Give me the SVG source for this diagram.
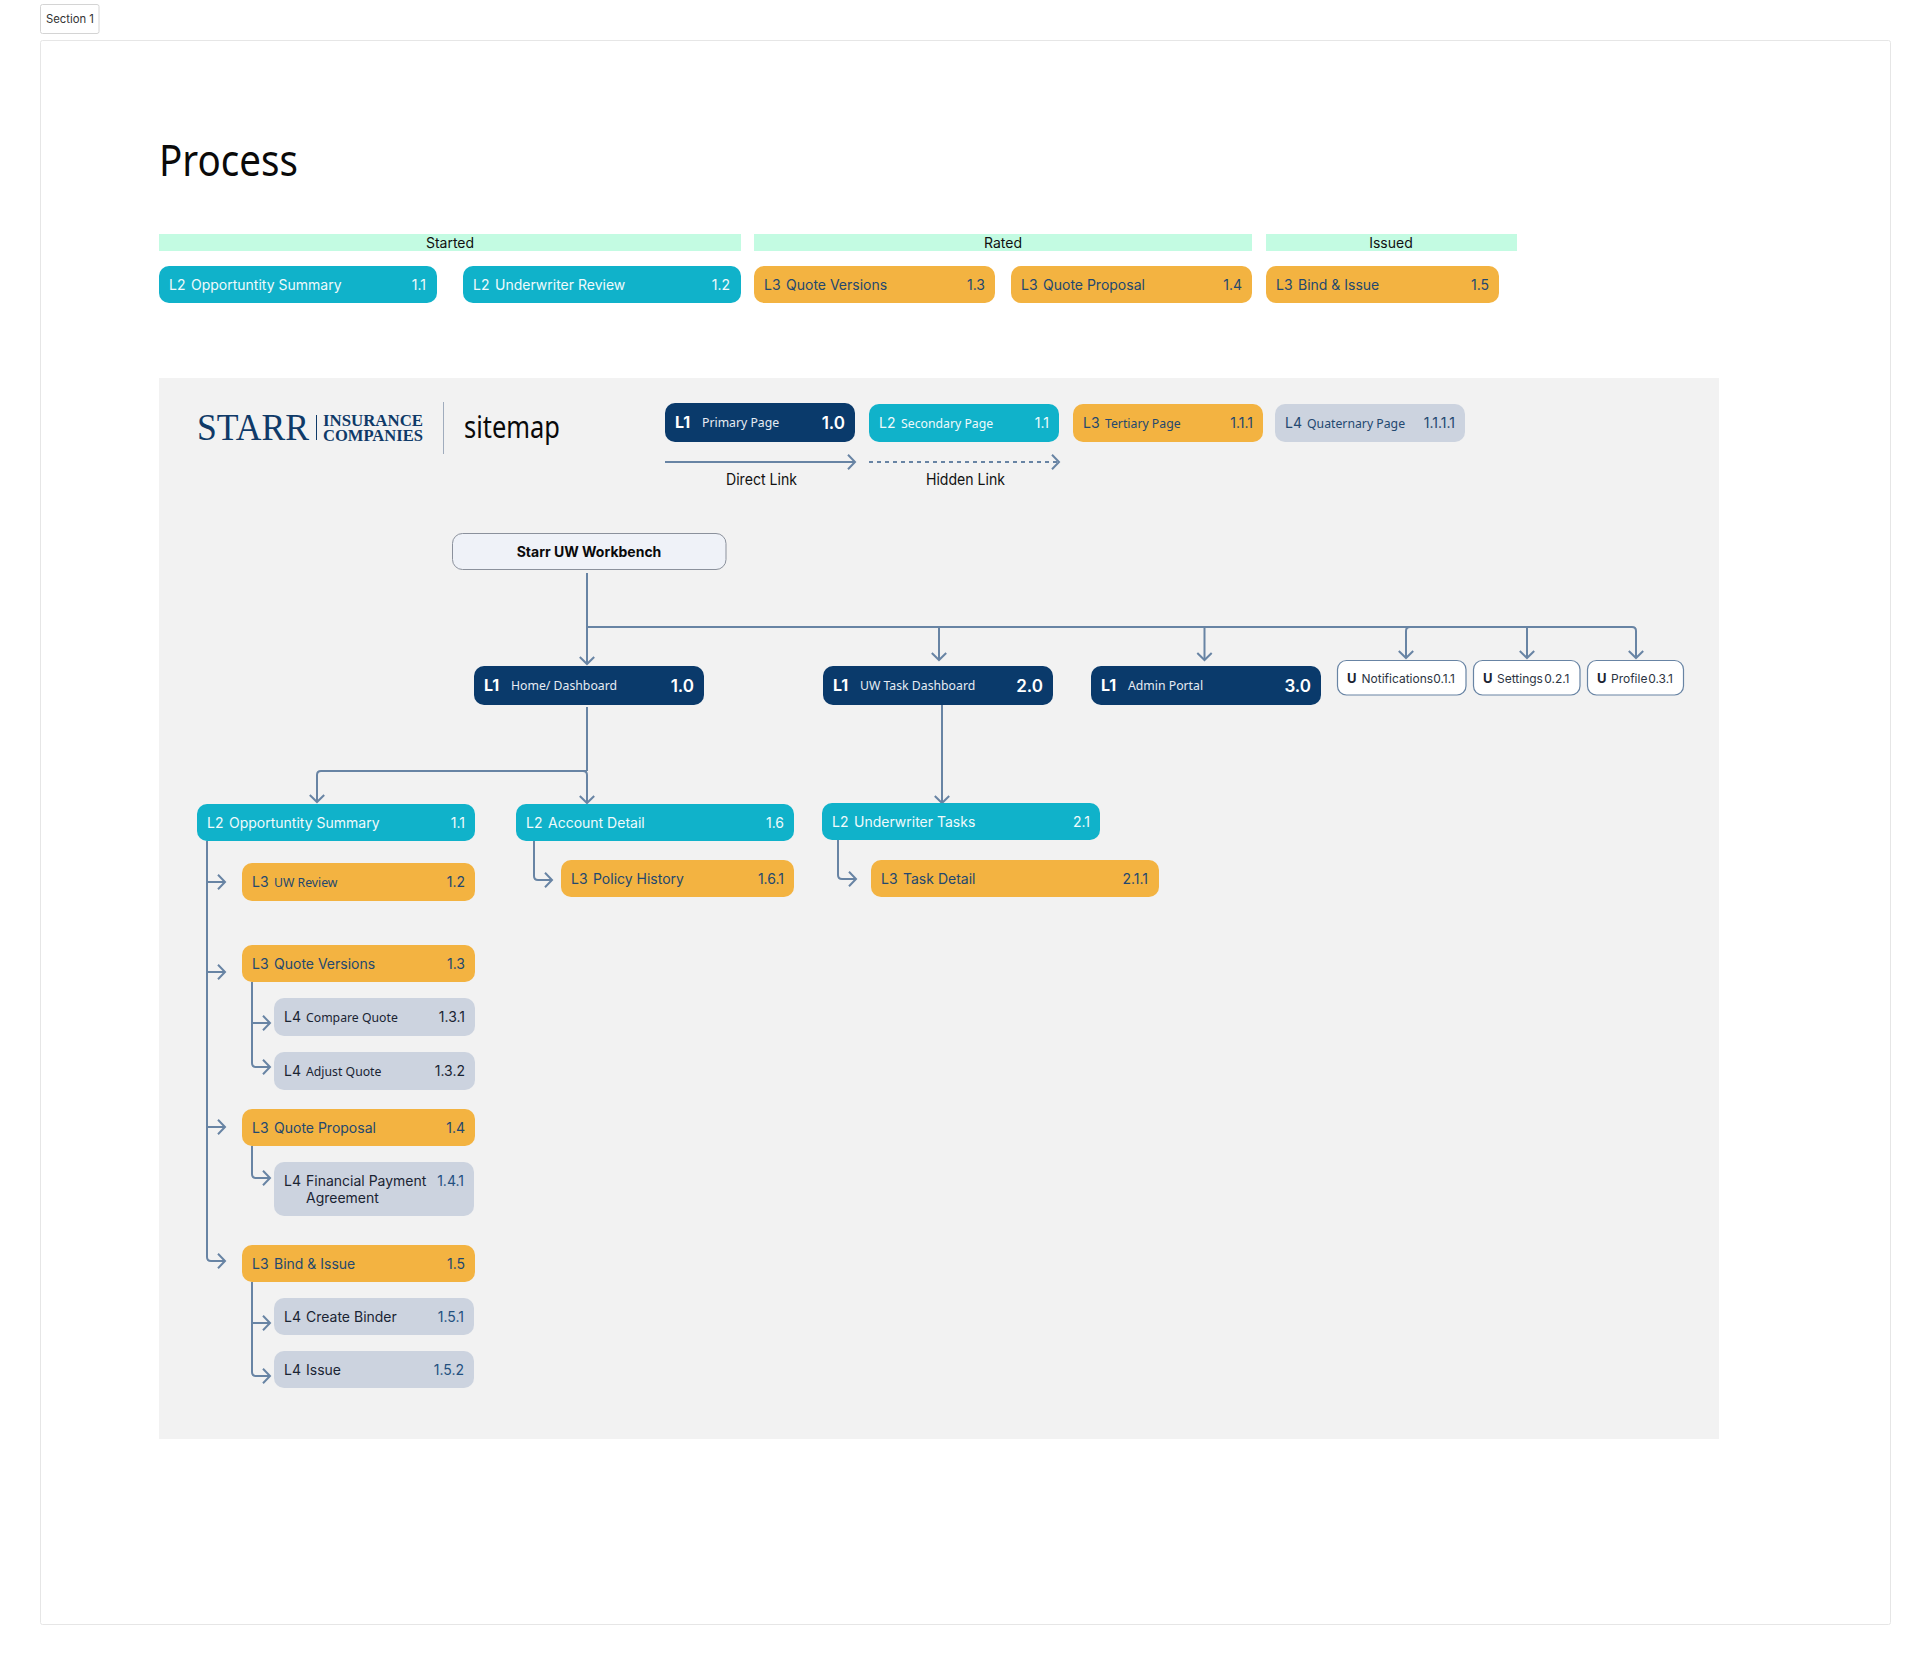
<svg xmlns="http://www.w3.org/2000/svg" width="1931" height="1665" viewBox="0 0 1931 1665">
<defs>
<marker id="ah" markerUnits="userSpaceOnUse" markerWidth="20" markerHeight="20" refX="14" refY="10" orient="auto"><path d="M7 2.8 L14 10 L7 17.2" fill="none" stroke="#6884A4" stroke-width="2"/></marker>
</defs>
<style>
text{font-family:"Inter","Liberation Sans",sans-serif;font-size:14px;white-space:pre}
.n{font-family:"Noto Sans","Liberation Sans",sans-serif}
.e{text-anchor:end}
.m{text-anchor:middle}
.c{fill:none;stroke:#6884A4;stroke-width:2}
.a{marker-end:url(#ah)}
.l1{fill:#0A3A6B}.l2{fill:#10B2CA}.l3{fill:#F3B341}.l4{fill:#CCD3DF}
.t1{fill:#fff}.t1s{fill:#E6ECF3;font-size:12.25px}.t1b{fill:#fff;font-weight:700;font-size:16px}.t1c{fill:#fff;font-weight:600;font-size:17px}
.t2{fill:#EFFAFC}.t3{fill:#23486F}.t4{fill:#1A2433}.t4n{fill:#23507F}
.s13{font-size:12.25px}
.u{fill:#fff;stroke:#6884A4;stroke-width:1.2}
.ut{fill:#2B3442;font-size:12px}.ub{fill:#1A2433;font-weight:700;font-size:13px}
.g{fill:#C3FBE2}
.lg{font-family:"Liberation Serif",serif;fill:#0F3A68}
.lb{font-size:16.5px;font-weight:700}
.ll{font-size:15.5px;fill:#111;text-anchor:start}
</style>
<rect width="1931" height="1665" fill="#fff"/>
<g id="section"><rect x="40.5" y="4.5" width="58.5" height="29" rx="2" fill="#fff" stroke="#D4D4D4" stroke-width="1"/><text x="46" y="22.5" style="font-size:11.3px" fill="#333">Section 1</text></g>
<rect id="frame" x="40.5" y="40.5" width="1850" height="1584" rx="2" fill="#fff" stroke="#E6E6E6" stroke-width="1"/>
<text id="title" class="n" x="159" y="176" style="font-size:43px" textLength="139" lengthAdjust="spacingAndGlyphs" fill="#0A0A0A">Process</text>
<g id="stage-started"><rect class="g" x="159" y="234" width="582" height="17"/><text class="m" x="450" y="248" fill="#111">Started</text></g>
<g id="stage-rated"><rect class="g" x="754" y="234" width="498" height="17"/><text class="m" x="1003" y="248" fill="#111">Rated</text></g>
<g id="stage-issued"><rect class="g" x="1266" y="234" width="251" height="17"/><text class="m" x="1391" y="248" fill="#111">Issued</text></g>
<g id="p11"><rect class="l2" x="159" y="266" width="278" height="37" rx="10"/><text class="t2" x="169" y="290">L2</text><text class="t2" x="191" y="290">Opportuntity Summary</text><text class="t2 e" x="426" y="290">1.1</text></g>
<g id="p12"><rect class="l2" x="463" y="266" width="278" height="37" rx="10"/><text class="t2" x="473" y="290">L2</text><text class="t2" x="495" y="290">Underwriter Review</text><text class="t2 e" x="730" y="290">1.2</text></g>
<g id="p13"><rect class="l3" x="754" y="266" width="241" height="37" rx="10"/><text class="t3" x="764" y="290">L3</text><text class="t3" x="786" y="290">Quote Versions</text><text class="t3 e" x="985" y="290">1.3</text></g>
<g id="p14"><rect class="l3" x="1011" y="266" width="241" height="37" rx="10"/><text class="t3" x="1021" y="290">L3</text><text class="t3" x="1043" y="290">Quote Proposal</text><text class="t3 e" x="1242" y="290">1.4</text></g>
<g id="p15"><rect class="l3" x="1266" y="266" width="233" height="37" rx="10"/><text class="t3" x="1276" y="290">L3</text><text class="t3" x="1298" y="290">Bind &amp; Issue</text><text class="t3 e" x="1489" y="290">1.5</text></g>
<rect id="panel" x="159" y="378" width="1560" height="1061" fill="#F2F2F2"/>
<g id="logo"><text class="lg" x="197" y="440" style="font-size:37px" textLength="112" lengthAdjust="spacingAndGlyphs">STARR</text><rect x="316" y="415" width="1" height="25" fill="#0F3A68"/><text class="lg lb" x="323" y="426" textLength="100" lengthAdjust="spacingAndGlyphs">INSURANCE</text><text class="lg lb" x="323" y="441" textLength="100" lengthAdjust="spacingAndGlyphs">COMPANIES</text><rect x="443" y="402" width="1" height="52" fill="#A0ACBD"/><text class="n" x="464" y="438" style="font-size:30px" textLength="96" lengthAdjust="spacingAndGlyphs" fill="#0A0A0A">sitemap</text></g>
<g id="leg-l1"><rect class="l1" x="665" y="403" width="190" height="39" rx="10"/><text class="t1b" x="675" y="428">L1</text><text class="t1s n" x="702" y="427">Primary Page</text><text class="t1c e" x="845" y="429">1.0</text></g>
<g id="leg-l2"><rect class="l2" x="869" y="404" width="190" height="38" rx="10"/><text class="t2" x="879" y="428">L2</text><text class="t2 n s13" x="901" y="428">Secondary Page</text><text class="t2 e" x="1049" y="428">1.1</text></g>
<g id="leg-l3"><rect class="l3" x="1073" y="404" width="190" height="38" rx="10"/><text class="t3" x="1083" y="428">L3</text><text class="t3 n s13" x="1105" y="428">Tertiary Page</text><text class="t3 e" x="1253" y="428">1.1.1</text></g>
<g id="leg-l4"><rect class="l4" x="1275" y="404" width="190" height="38" rx="10"/><text class="t3" x="1285" y="428">L4</text><text class="t3 n s13" x="1307" y="428">Quaternary Page</text><text class="t3 e" x="1455" y="428">1.1.1.1</text></g>
<g id="legend-links"><path class="c a" d="M665 462H855"/><path class="c a" d="M869 462H1059" stroke-dasharray="4 4"/><text class="ll" x="726" y="485" textLength="71" lengthAdjust="spacingAndGlyphs">Direct Link</text><text class="ll" x="926" y="485" textLength="79" lengthAdjust="spacingAndGlyphs">Hidden Link</text></g>
<g id="connectors">
<path class="c a" d="M587 573V664"/>
<path class="c a" d="M587 627H1632Q1636 627 1636 631V658"/>
<path class="c a" d="M939 627V660"/>
<path class="c a" d="M1204.5 627V660"/>
<path class="c a" d="M1410 627Q1406 627 1406 631V658"/>
<path class="c a" d="M1527 627V658"/>
<path class="c" d="M587 707V771"/>
<path class="c a" d="M583 771Q587 771 587 775V803"/>
<path class="c a" d="M587 771H321Q317 771 317 775V802"/>
<path class="c a" d="M942 705V803"/>
<path class="c a" d="M207 841V882H225"/>
<path class="c a" d="M207 882V972H225"/>
<path class="c a" d="M207 972V1127H225"/>
<path class="c a" d="M207 1127V1257Q207 1261 211 1261H225"/>
<path class="c a" d="M252 982V1023H270"/>
<path class="c a" d="M252 1023V1063Q252 1067 256 1067H270"/>
<path class="c a" d="M252 1146V1174Q252 1178 256 1178H270"/>
<path class="c a" d="M252 1282V1323H270"/>
<path class="c a" d="M252 1323V1372Q252 1376 256 1376H270"/>
<path class="c a" d="M534 841V876Q534 880 538 880H552"/>
<path class="c a" d="M838 840V875Q838 879 842 879H856"/>
</g>
<g id="root"><rect x="452.5" y="533.5" width="273.5" height="36" rx="10" fill="#EFF2F8" stroke="#8B919C" stroke-width="1"/><text class="m" x="589" y="557" style="font-weight:700" fill="#0A0A0A">Starr UW Workbench</text></g>
<g id="n10"><rect class="l1" x="474" y="666" width="230" height="39" rx="10"/><text class="t1b" x="484" y="691">L1</text><text class="t1s n" x="511" y="690">Home/ Dashboard</text><text class="t1c e" x="694" y="692">1.0</text></g>
<g id="n20"><rect class="l1" x="823" y="666" width="230" height="39" rx="10"/><text class="t1b" x="833" y="691">L1</text><text class="t1s n" x="860" y="690">UW Task Dashboard</text><text class="t1c e" x="1043" y="692">2.0</text></g>
<g id="n30"><rect class="l1" x="1091" y="666" width="230" height="39" rx="10"/><text class="t1b" x="1101" y="691">L1</text><text class="t1s n" x="1128" y="690">Admin Portal</text><text class="t1c e" x="1311" y="692">3.0</text></g>
<g id="u011"><rect class="u" x="1337.5" y="660.5" width="128.5" height="34.5" rx="9"/><text class="ub" x="1347" y="682.5">U</text><text class="ut" x="1361.5" y="682.5">Notifications</text><text class="ut e" x="1455" y="682.5">0.1.1</text></g>
<g id="u021"><rect class="u" x="1473.5" y="660.5" width="106.5" height="34.5" rx="9"/><text class="ub" x="1483" y="682.5">U</text><text class="ut" x="1497" y="682.5">Settings</text><text class="ut e" x="1569.5" y="682.5">0.2.1</text></g>
<g id="u031"><rect class="u" x="1587.5" y="660.5" width="96" height="34.5" rx="9"/><text class="ub" x="1597" y="682.5">U</text><text class="ut" x="1611" y="682.5">Profile</text><text class="ut e" x="1673" y="682.5">0.3.1</text></g>
<g id="n11"><rect class="l2" x="197" y="804" width="278" height="37" rx="10"/><text class="t2" x="207" y="828">L2</text><text class="t2" x="229" y="828">Opportuntity Summary</text><text class="t2 e" x="465" y="828">1.1</text></g>
<g id="n16"><rect class="l2" x="516" y="804" width="278" height="37" rx="10"/><text class="t2" x="526" y="828">L2</text><text class="t2" x="548" y="828">Account Detail</text><text class="t2 e" x="784" y="828">1.6</text></g>
<g id="n21"><rect class="l2" x="822" y="803" width="278" height="37" rx="10"/><text class="t2" x="832" y="827">L2</text><text class="t2" x="854" y="827">Underwriter Tasks</text><text class="t2 e" x="1090" y="827">2.1</text></g>
<g id="n12"><rect class="l3" x="242" y="863" width="233" height="38" rx="10"/><text class="t3" x="252" y="887">L3</text><text class="t3 n s13" x="274" y="887">UW Review</text><text class="t3 e" x="465" y="887">1.2</text></g>
<g id="n161"><rect class="l3" x="561" y="860" width="233" height="37" rx="10"/><text class="t3" x="571" y="884">L3</text><text class="t3" x="593" y="884">Policy History</text><text class="t3 e" x="784" y="884">1.6.1</text></g>
<g id="n211"><rect class="l3" x="871" y="860" width="288" height="37" rx="10"/><text class="t3" x="881" y="884">L3</text><text class="t3" x="903" y="884">Task Detail</text><text class="t3 e" x="1148" y="884">2.1.1</text></g>
<g id="n13"><rect class="l3" x="242" y="945" width="233" height="37" rx="10"/><text class="t3" x="252" y="969">L3</text><text class="t3" x="274" y="969">Quote Versions</text><text class="t3 e" x="465" y="969">1.3</text></g>
<g id="n131"><rect class="l4" x="274" y="998" width="201" height="38" rx="10"/><text class="t4" x="284" y="1022">L4</text><text class="t4 n s13" x="306" y="1022">Compare Quote</text><text class="t4 e" x="465" y="1022">1.3.1</text></g>
<g id="n132"><rect class="l4" x="274" y="1052" width="201" height="38" rx="10"/><text class="t4" x="284" y="1076">L4</text><text class="t4 n s13" x="306" y="1076">Adjust Quote</text><text class="t4 e" x="465" y="1076">1.3.2</text></g>
<g id="n14"><rect class="l3" x="242" y="1109" width="233" height="37" rx="10"/><text class="t3" x="252" y="1133">L3</text><text class="t3" x="274" y="1133">Quote Proposal</text><text class="t3 e" x="465" y="1133">1.4</text></g>
<g id="n141"><rect class="l4" x="274" y="1162" width="200" height="54" rx="10"/><text class="t4" x="284" y="1186">L4</text><text class="t4" x="306" y="1186">Financial Payment</text><text class="t4" x="306" y="1203">Agreement</text><text class="t4n e" x="464" y="1186">1.4.1</text></g>
<g id="n15"><rect class="l3" x="242" y="1245" width="233" height="37" rx="10"/><text class="t3" x="252" y="1269">L3</text><text class="t3" x="274" y="1269">Bind &amp; Issue</text><text class="t3 e" x="465" y="1269">1.5</text></g>
<g id="n151"><rect class="l4" x="274" y="1298" width="200" height="37" rx="10"/><text class="t4" x="284" y="1322">L4</text><text class="t4" x="306" y="1322">Create Binder</text><text class="t4n e" x="464" y="1322">1.5.1</text></g>
<g id="n152"><rect class="l4" x="274" y="1351" width="200" height="37" rx="10"/><text class="t4" x="284" y="1375">L4</text><text class="t4" x="306" y="1375">Issue</text><text class="t4n e" x="464" y="1375">1.5.2</text></g>
</svg>
